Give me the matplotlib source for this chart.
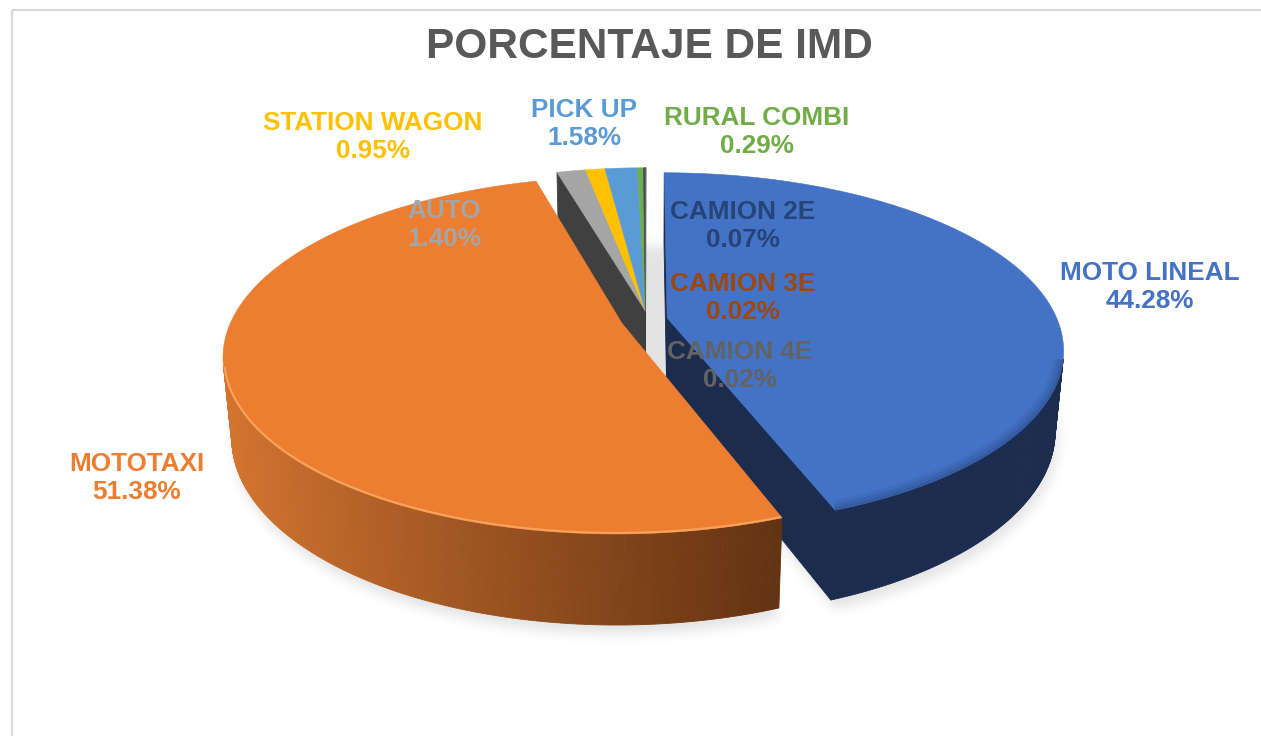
import numpy as np
import matplotlib
matplotlib.use("Agg")
import matplotlib.pyplot as plt
from matplotlib.patches import Polygon, Rectangle
from matplotlib.collections import PolyCollection
from matplotlib.path import Path
from matplotlib.colors import to_rgb

# ---------------- data ----------------
categories = ["MOTO LINEAL", "MOTOTAXI", "AUTO", "STATION WAGON", "PICK UP",
              "RURAL COMBI", "CAMION 2E", "CAMION 3E", "CAMION 4E"]
percentages = [44.28, 51.38, 1.40, 0.95, 1.58, 0.29, 0.07, 0.02, 0.02]
colors = ["#4472C4", "#ED7D31", "#A5A5A5", "#FFC000", "#5B9BD5",
          "#70AD47", "#264478", "#9E480E", "#636363"]
title = "PORCENTAJE DE IMD"

# ---------------- layout / style ----------------
W, HPX = 1261, 736
FOCAL = 1962.0          # projection focal length (px)
DIST = 5.03             # camera distance (pie radii)
TILT = np.arcsin(0.44)  # camera elevation
CX, CY = 648.0, 319.5   # screen position of the pie centre
THICK = 0.23            # slab thickness (pie radii)
explode = [0.05, 0.07, 0.05, 0.05, 0.05, 0.05, 0.05, 0.05, 0.05]
SMALL = 3.0             # slices below this share one exploded block

label_pos = {
    "MOTO LINEAL": (1150, 287), "MOTOTAXI": (137, 478), "AUTO": (444, 225),
    "STATION WAGON": (373, 137), "PICK UP": (584, 124), "RURAL COMBI": (757, 132),
    "CAMION 2E": (743, 226), "CAMION 3E": (743, 298), "CAMION 4E": (740, 366),
}

ORANGE_L = np.array([0.84, 0.46, 0.19])
ORANGE_D = np.array([0.39, 0.20, 0.07])
BLUE_SIDE = np.array(to_rgb("#1B2C4F"))

cam = DIST * np.array([0.0, np.sin(TILT), np.cos(TILT)])


def project(X, Y, Z):
    X, Y, Z = np.asarray(X, float), np.asarray(Y, float), np.asarray(Z, float)
    up = Y * np.cos(TILT) - Z * np.sin(TILT)
    dep = Y * np.sin(TILT) + Z * np.cos(TILT)
    s = FOCAL / (DIST - dep)
    return CX + s * X, CY - s * up


def depth(p):
    return p[1] * np.sin(TILT) + p[2] * np.cos(TILT)


def side_color(i, x):
    if i == 1:
        t = np.clip((x - 225.0) / 550.0, 0, 1) ** 0.9
        return tuple(ORANGE_L * (1 - t) + ORANGE_D * t)
    if i == 0:
        return tuple(BLUE_SIDE)
    return tuple(np.array(to_rgb(colors[i])) * 0.39)


def is_front(th, off):
    nrm = np.array([np.sin(th), 0.0, -np.cos(th)])
    p = off + np.array([np.sin(th), 0.0, -np.cos(th)])
    return np.dot(nrm, cam - p) > 0


vals = np.array(percentages, float)
bounds = np.concatenate([[0.0], np.cumsum(vals)]) / vals.sum() * 2 * np.pi

# group consecutive tiny slices into one exploded block
groups = []
for i, v in enumerate(vals):
    if v < SMALL and groups and vals[groups[-1][-1]] < SMALL:
        groups[-1].append(i)
    else:
        groups.append([i])

offsets = {}
for g in groups:
    t1, t2 = bounds[g[0]], bounds[g[-1] + 1]
    mid = 0.5 * (t1 + t2)
    e = explode[g[0]]
    off = np.array([e * np.sin(mid), 0.0, -e * np.cos(mid)])
    for i in g:
        offsets[i] = off

fig = plt.figure(figsize=(W / 100, HPX / 100), dpi=100)
ax = fig.add_axes([0, 0, 1, 1])
ax.set_xlim(0, W)
ax.set_ylim(HPX, 0)
ax.axis("off")

# chart frame
ax.add_patch(Rectangle((12, 10), W + 40, HPX + 40, fill=False,
                       ec="#D9D9D9", lw=1.6, zorder=0.5))

# ---------------- soft drop shadow ----------------
yy, xx = np.mgrid[0:HPX, 0:W]
pts = np.column_stack([xx.ravel() + 0.5, yy.ravel() + 0.5])
mask = np.zeros(HPX * W)


def add_shadow(off, t1, t2, dx, dy):
    global mask
    th = np.linspace(t1, t2, 200)
    X = np.concatenate([[off[0]], off[0] + np.sin(th)])
    Z = np.concatenate([[off[2]], off[2] - np.cos(th)])
    u, v = project(X, np.full_like(X, -THICK), Z)
    poly = np.column_stack([u + dx, v + dy])
    mask = np.maximum(mask, Path(poly).contains_points(pts).astype(float))


for g in groups:
    add_shadow(offsets[g[0]], bounds[g[0]], bounds[g[-1] + 1], 3, 9)
# floor seen through the gap at the back of the pie
add_shadow(np.zeros(3), -np.pi / 3, np.pi / 3, 0, 2)

mask = mask.reshape(HPX, W)
sig = 6.0
k = np.exp(-0.5 * (np.arange(-20, 21) / sig) ** 2)
k /= k.sum()
mask = np.apply_along_axis(lambda r: np.convolve(r, k, mode="same"), 1, mask)
mask = np.apply_along_axis(lambda c: np.convolve(c, k, mode="same"), 0, mask)
shadow = np.zeros((HPX, W, 4))
shadow[..., 3] = mask * 0.11
ax.imshow(shadow, extent=(0, W, HPX, 0), zorder=1, interpolation="bilinear")

# ---------------- side walls (painter's order) ----------------
faces = []  # (depth, polygon, colour)
for i in range(len(vals)):
    off = offsets[i]
    t1, t2 = bounds[i], bounds[i + 1]
    n = max(3, int(np.degrees(t2 - t1) * 2))
    th = np.linspace(t1, t2, n + 1)
    for a, b in zip(th[:-1], th[1:]):
        tm = 0.5 * (a + b)
        nrm = np.array([np.sin(tm), 0.0, -np.cos(tm)])
        p = off + np.array([np.sin(tm), -THICK / 2, -np.cos(tm)])
        if np.dot(nrm, cam - p) <= 0:
            continue
        X = off[0] + np.array([np.sin(a), np.sin(b), np.sin(b), np.sin(a)])
        Z = off[2] - np.array([np.cos(a), np.cos(b), np.cos(b), np.cos(a)])
        Y = np.array([0, 0, -THICK, -THICK])
        u, v = project(X, Y, Z)
        faces.append((depth(p), np.column_stack([u, v]), side_color(i, u.mean())))

for g in groups:
    off = offsets[g[0]]
    for idx, t, sgn in ((g[0], bounds[g[0]], -1), (g[-1], bounds[g[-1] + 1], 1)):
        na = t + sgn * np.pi / 2
        nrm = np.array([np.sin(na), 0.0, -np.cos(na)])
        p = off + np.array([0.5 * np.sin(t), -THICK / 2, -0.5 * np.cos(t)])
        if np.dot(nrm, cam - p) <= 0:
            continue
        X = off[0] + np.array([0, np.sin(t), np.sin(t), 0])
        Z = off[2] + np.array([0, -np.cos(t), -np.cos(t), 0])
        Y = np.array([0, 0, -THICK, -THICK])
        u, v = project(X, Y, Z)
        faces.append((depth(p), np.column_stack([u, v]), side_color(idx, u.mean())))

faces.sort(key=lambda f: f[0])
pc = PolyCollection([f[1] for f in faces], facecolors=[f[2] for f in faces],
                    edgecolors=[f[2] for f in faces], linewidths=0.6, zorder=2)
ax.add_collection(pc)

# ---------------- top faces with a soft bevel on the front rim ----------------
# each rim is a stack of (colour, width, alpha) strokes clipped to the top face
rim_style = {
    0: [("#1F3A6E", 14.0, 0.10), ("#1F3A6E", 9.0, 0.14), ("#1F3A6E", 4.0, 0.20)],
    1: [("#F9A762", 3.0, 0.9)],
}
for i in range(len(vals)):
    off = offsets[i]
    t1, t2 = bounds[i], bounds[i + 1]
    th = np.linspace(t1, t2, max(4, int(np.degrees(t2 - t1) * 2)))
    X = np.concatenate([[off[0]], off[0] + np.sin(th)])
    Z = np.concatenate([[off[2]], off[2] - np.cos(th)])
    u, v = project(X, np.zeros_like(X), Z)
    top = Polygon(np.column_stack([u, v]), closed=True, fc=colors[i],
                  ec=colors[i], lw=0.4, zorder=3)
    ax.add_patch(top)
    if i in rim_style:
        front = np.array([is_front(t, off) for t in th])
        if front.any():
            ru, rv = u[1:][front], v[1:][front]
            for col, lw, alpha in rim_style[i]:
                line, = ax.plot(ru, rv, color=col, lw=lw, alpha=alpha,
                                solid_capstyle="butt", zorder=3.5)
                line.set_clip_path(top)

# ---------------- labels ----------------
for name, pct, col in zip(categories, percentages, colors):
    x, y = label_pos[name]
    ax.text(x, y, f"{name}\n{pct:.2f}%", ha="center", va="center",
            fontsize=18.8, fontweight="bold", color=col,
            family=["Liberation Sans", "DejaVu Sans"], linespacing=1.2, zorder=5)

ax.text(649, 47, title, ha="center", va="center", fontsize=30.5,
        fontweight="bold", color="#595959",
        family=["Liberation Sans", "DejaVu Sans"], zorder=5)

fig.savefig("out.png", dpi=100)
